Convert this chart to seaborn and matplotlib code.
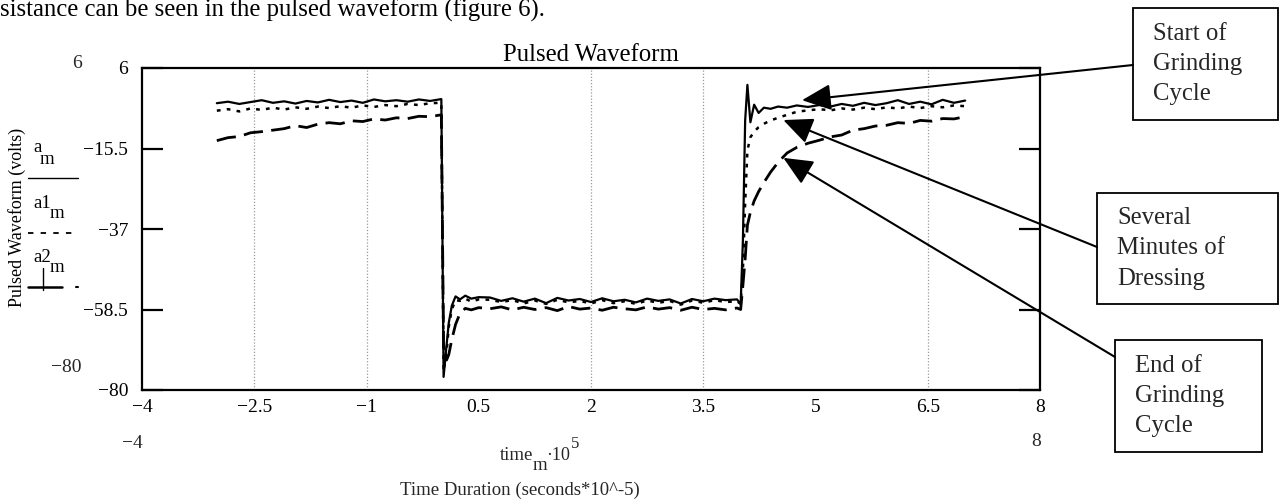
import numpy as np
import pandas as pd
import matplotlib
matplotlib.use("Agg")
import matplotlib.pyplot as plt
from matplotlib.lines import Line2D
from matplotlib.patches import Rectangle
import seaborn as sns

# ---------------- data ----------------
time = [-3.00, -2.85, -2.70, -2.55, -2.40, -2.25, -2.10, -1.95, -1.80, -1.65, -1.50,
        -1.35, -1.20, -1.05, -0.90, -0.75, -0.60, -0.45, -0.30, -0.15, 0.00,
        0.03, 0.07, 0.10, 0.14, 0.19, 0.25, 0.32, 0.40, 0.50,
        0.65, 0.80, 0.95, 1.10, 1.25, 1.40, 1.55, 1.70, 1.85, 2.00, 2.15, 2.30,
        2.45, 2.60, 2.75, 2.90, 3.05, 3.20, 3.35, 3.50, 3.65, 3.80, 3.95,
        4.00, 4.03, 4.06, 4.09, 4.13, 4.18, 4.24, 4.31, 4.40, 4.50, 4.62, 4.75, 4.90,
        5.05, 5.20, 5.35, 5.50, 5.65, 5.80, 5.95, 6.10, 6.25, 6.40, 6.55, 6.70, 6.85, 7.00]

a_m = [-3.4, -3.0, -3.6, -3.1, -2.6, -3.3, -2.9, -3.5, -2.8, -3.2, -2.5,
       -3.1, -2.7, -3.3, -2.4, -2.9, -2.6, -3.0, -2.4, -2.8, -2.3,
       -76.5, -68.0, -62.0, -57.5, -55.0, -55.8, -54.8, -55.6, -55.2,
       -55.3, -56.2, -55.5, -56.4, -55.6, -56.8, -55.4, -56.1, -55.7, -56.5, -55.5, -56.3,
       -55.9, -56.6, -55.6, -56.2, -55.8, -56.9, -55.7, -56.3, -55.6, -56.0, -55.8,
       -57.0, -40.0, -8.0, 1.5, -8.5, -3.8, -6.0, -4.6, -4.9, -4.3, -4.6, -4.0, -4.4,
       -3.9, -4.3, -3.6, -4.1, -3.3, -3.9, -3.4, -2.6, -3.6, -3.0, -3.7, -2.5, -3.3, -2.7]

a1_m = [-5.4, -5.0, -5.6, -4.8, -5.2, -4.6, -5.1, -4.5, -4.9, -4.3, -4.7,
        -4.2, -4.6, -4.0, -4.4, -3.9, -4.2, -3.6, -3.9, -3.4, -3.3,
        -75.0, -70.0, -63.0, -58.5, -56.0, -56.2, -55.6, -56.4, -55.8,
        -55.9, -56.5, -56.0, -56.9, -56.1, -57.0, -55.9, -56.6, -56.2, -56.9, -56.0, -56.8,
        -56.3, -57.0, -56.1, -56.7, -56.2, -57.2, -56.1, -56.7, -56.0, -56.5, -56.3,
        -57.0, -48.0, -30.0, -16.0, -12.5, -11.0, -9.8, -8.9, -8.0, -7.3, -6.5, -5.7, -5.3,
        -5.0, -5.3, -4.8, -5.1, -4.6, -5.0, -4.5, -4.8, -4.3, -4.7, -4.2, -4.5, -4.0, -4.2]

a2_m = [-13.4, -12.6, -12.3, -11.3, -11.0, -10.6, -10.2, -9.4, -9.9, -9.0, -8.6,
        -8.9, -8.1, -8.3, -7.6, -7.9, -7.3, -7.5, -6.9, -7.0, -6.5,
        -68.0, -72.0, -70.5, -66.5, -62.5, -59.5, -58.2, -58.6, -58.0,
        -58.3, -57.8, -58.6, -57.9, -58.5, -58.0, -58.8, -57.7, -58.4, -58.1, -58.7, -57.9,
        -58.3, -58.6, -57.8, -58.4, -58.0, -58.7, -57.9, -58.5, -58.2, -58.6, -58.1,
        -58.5, -52.0, -45.0, -36.0, -32.5, -29.5, -27.0, -24.6, -21.8, -19.2, -16.7, -15.2, -14.1,
        -13.3, -12.4, -11.9, -10.6, -10.2, -9.5, -9.3, -8.6, -8.8, -8.0, -8.2, -7.5, -7.6, -7.0]

x_ticks = [-4, -2.5, -1, 0.5, 2, 3.5, 5, 6.5, 8]
y_ticks = [6, -15.5, -37, -58.5, -80]
grid_x = [-2.5, -1, 2, 3.5, 6.5]

callouts = ["Start of\nGrinding\nCycle", "Several\nMinutes of\nDressing", "End of\nGrinding\nCycle"]
callout_tips = [(4.82, -2.6), (4.57, -7.9), (4.57, -18.0)]

# ---------------- styling ----------------
sns.set_theme(style="white")
plt.rcParams["font.family"] = ["Liberation Serif", "DejaVu Serif"]
plt.rcParams["axes.unicode_minus"] = True

W, H = 1279, 500
fig = plt.figure(figsize=(W / 100, H / 100), dpi=100)


def fx(x):
    return x / W


def fy(y):
    return 1 - y / H


ax = fig.add_axes([fx(142), fy(390), (1040 - 142) / W, (390 - 68) / H])

df = pd.DataFrame({"time": time, "a_m": a_m, "a1_m": a1_m, "a2_m": a2_m})

for gx in grid_x:
    ax.axvline(gx, color="#9a9a9a", lw=0.9, linestyle=(0, (1, 1.5)), zorder=0)

sns.lineplot(data=df, x="time", y="a_m", ax=ax, color="black", lw=1.6,
             estimator=None, sort=False)
sns.lineplot(data=df, x="time", y="a1_m", ax=ax, color="black", lw=1.8,
             linestyle=(0, (1.5, 2.5)), estimator=None, sort=False)
sns.lineplot(data=df, x="time", y="a2_m", ax=ax, color="black", lw=2.0,
             linestyle=(0, (7, 3)), estimator=None, sort=False)

ax.set_xlim(-4, 8)
ax.set_ylim(-80, 6)
ax.set_xticks(x_ticks)
ax.set_xticklabels([f"{v:g}".replace("-", "\u2212") for v in x_ticks])
ax.set_yticks(y_ticks)
ax.set_yticklabels([f"{v:g}".replace("-", "\u2212") for v in y_ticks])
ax.set_xlabel("")
ax.set_ylabel("")
ax.tick_params(axis="y", direction="in", length=15, width=1.6, left=True, right=True,
               pad=10, labelsize=14, colors="black")
ax.tick_params(axis="x", length=0, pad=6.5, labelsize=14, colors="black")
for s in ax.spines.values():
    s.set_visible(True)
    s.set_color("black")
    s.set_linewidth(1.6)
ax.set_title("Pulsed Waveform", fontsize=17.8, pad=5, color="black")

# ---------------- surrounding texts (Mathcad style) ----------------
fig.text(0, fy(10), "sistance can be seen in the pulsed waveform (figure 6).",
         fontsize=17.8, ha="left", va="center", color="black")

fig.text(fx(17), fy(217), "Pulsed Waveform (volts)", rotation=90, fontsize=13,
         ha="center", va="center", color="black")

fig.text(fx(82), fy(64), "6", fontsize=14, ha="right", va="center")
fig.text(fx(82), fy(368), "\u221280", fontsize=14, ha="right", va="center")
fig.text(fx(143), fy(444), "\u22124", fontsize=14, ha="right", va="center")
fig.text(fx(1036), fy(442), "8", fontsize=14, ha="center", va="center")

# legend-like labels on the left
lab = dict(fontsize=13.5, va="center", ha="left", color="black")
fig.text(fx(33), fy(147), "a", **lab)
fig.text(fx(40), fy(159), "m", **lab)
fig.text(fx(33), fy(203), "a1", **lab)
fig.text(fx(50), fy(214), "m", **lab)
fig.text(fx(33), fy(257), "a2", **lab)
fig.text(fx(50), fy(268), "m", **lab)
fig.add_artist(Line2D([fx(28), fx(78)], [fy(178), fy(178)], transform=fig.transFigure,
                      color="black", lw=1.0))
fig.add_artist(Line2D([fx(28), fx(77)], [fy(233), fy(233)], transform=fig.transFigure,
                      color="black", lw=1.3, linestyle=(0, (3, 4))))
fig.add_artist(Line2D([fx(28), fx(62)], [fy(287), fy(287)], transform=fig.transFigure,
                      color="black", lw=1.8))
fig.add_artist(Line2D([fx(76), fx(78)], [fy(287), fy(287)], transform=fig.transFigure,
                      color="black", lw=1.5))
fig.add_artist(Line2D([fx(43), fx(43)], [fy(268), fy(290)], transform=fig.transFigure,
                      color="black", lw=1.0))

# x axis expression labels
fig.text(fx(500), fy(456), "time", fontsize=13.5, ha="left", va="center")
fig.text(fx(533), fy(466), "m", fontsize=13.5, ha="left", va="center")
fig.text(fx(546), fy(456), "\u00b710", fontsize=13, ha="left", va="center")
fig.text(fx(571), fy(444), "5", fontsize=12, ha="left", va="center")
fig.text(fx(520), fy(490), "Time Duration (seconds*10^-5)", fontsize=13.5,
         ha="center", va="center")

# ---------------- callout boxes with arrows ----------------
boxes = [(1133, 8, 1278, 120), (1097, 193, 1278, 304), (1115, 340, 1262, 452)]
text_left = [1153, 1117, 1135]
starts = [(1133, 65), (1097, 247), (1115, 357)]
for (x0, y0, x1, y1), txt, tl in zip(boxes, callouts, text_left):
    fig.add_artist(Rectangle((fx(x0), fy(y1)), (x1 - x0) / W, (y1 - y0) / H,
                             transform=fig.transFigure, fill=False, ec="black", lw=1.3))
    cy = (y0 + y1) / 2
    for i, ln in enumerate(txt.split("\n")):
        fig.text(fx(tl), fy(cy + (i - 1) * 30), ln, fontsize=17.8, ha="left", va="center")

for (sx, sy), tip in zip(starts, callout_tips):
    ax.annotate("", xy=tip, xycoords="data", xytext=(sx, H - sy), textcoords="figure pixels",
                annotation_clip=False,
                arrowprops=dict(arrowstyle="-|>,head_length=1.0,head_width=0.45",
                                mutation_scale=18, lw=1.5, color="black",
                                shrinkA=0, shrinkB=0))

fig.savefig("out.png", dpi=100)
